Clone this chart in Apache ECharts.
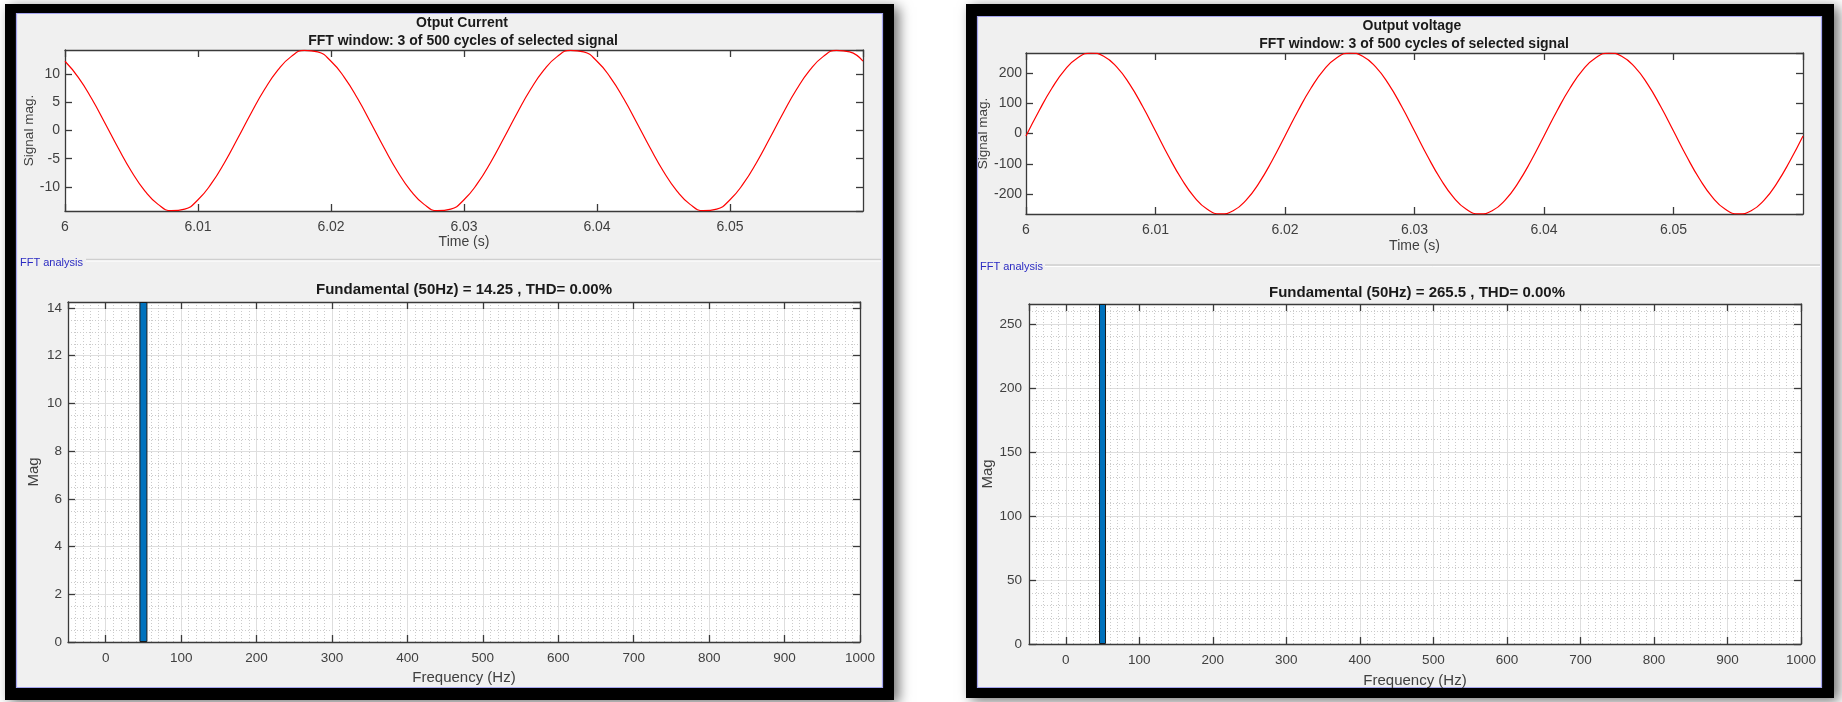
<!DOCTYPE html>
<html>
<head>
<meta charset="utf-8">
<script src="https://cdn.jsdelivr.net/npm/echarts@6/dist/echarts.min.js"></script>
<style>
html,body{margin:0;padding:0;background:#ffffff;}
#chart{width:1842px;height:702px;}
</style>
</head>
<body>
<div id="chart"></div>
<script>
// ---------------- data ----------------
const timeS = [
  6.000, 6.001, 6.002, 6.003, 6.004, 6.005, 6.006, 6.007, 6.008, 6.009,
  6.010, 6.011, 6.012, 6.013, 6.014, 6.015, 6.016, 6.017, 6.018, 6.019,
  6.020, 6.021, 6.022, 6.023, 6.024, 6.025, 6.026, 6.027, 6.028, 6.029,
  6.030, 6.031, 6.032, 6.033, 6.034, 6.035, 6.036, 6.037, 6.038, 6.039,
  6.040, 6.041, 6.042, 6.043, 6.044, 6.045, 6.046, 6.047, 6.048, 6.049,
  6.050, 6.051, 6.052, 6.053, 6.054, 6.055, 6.056, 6.057, 6.058, 6.059,
  6.060
];
const outputCurrent = [
  12.26, 9.42, 5.66, 1.34, -3.11, -7.25, -10.69, -13.08, -14.19, -13.91,
  -12.26, -9.42, -5.66, -1.34, 3.11, 7.25, 10.69, 13.08, 14.19, 13.91,
  12.26, 9.42, 5.66, 1.34, -3.11, -7.25, -10.69, -13.08, -14.19, -13.91,
  -12.26, -9.42, -5.66, -1.34, 3.11, 7.25, 10.69, 13.08, 14.19, 13.91,
  12.26, 9.42, 5.66, 1.34, -3.11, -7.25, -10.69, -13.08, -14.19, -13.91,
  -12.26, -9.42, -5.66, -1.34, 3.11, 7.25, 10.69, 13.08, 14.19, 13.91,
  12.26
];
const outputVoltage = [
  -8.3, 74.1, 149.2, 209.8, 249.8, 265.4, 255.0, 219.6, 162.7, 89.9,
  8.3, -74.1, -149.2, -209.8, -249.8, -265.4, -255.0, -219.6, -162.7, -89.9,
  -8.3, 74.1, 149.2, 209.8, 249.8, 265.4, 255.0, 219.6, 162.7, 89.9,
  8.3, -74.1, -149.2, -209.8, -249.8, -265.4, -255.0, -219.6, -162.7, -89.9,
  -8.3, 74.1, 149.2, 209.8, 249.8, 265.4, 255.0, 219.6, 162.7, 89.9,
  8.3, -74.1, -149.2, -209.8, -249.8, -265.4, -255.0, -219.6, -162.7, -89.9,
  -8.3
];
const harmonicHz = [50];
const currentSpectrum = [14.25];
const voltageSpectrum = [265.5];

const currentFundamental = 14.25;
const voltageFundamental = 265.5;
const thdPercent = '0.00';

const titles = {
  current: 'Otput Current',
  voltage: 'Output voltage',
  window: 'FFT window: 3 of 500 cycles of selected signal',
  fft: 'FFT analysis'
};

// ---------------- styling ----------------
const FONT = '"Liberation Sans", Arial, Helvetica, sans-serif';
const AXC = '#3a3a3a';
const LBL = '#404040';

function xAxes(g, o) {
  const base = {
    type: 'value', gridIndex: g, min: o.min, max: o.max,
    splitNumber: o.splitNumber || 5
  };
  if (o.interval != null) base.interval = o.interval;
  if (o.fixInterval != null) { base.minInterval = o.fixInterval; base.maxInterval = o.fixInterval; }
  const main = Object.assign({}, base, {
    position: 'bottom',
    axisLine: { show: true, onZero: false, lineStyle: { color: AXC, width: 1.3 } },
    axisTick: { show: true, inside: true, length: 7, lineStyle: { color: AXC, width: 1.3 } },
    axisLabel: {
      show: true, margin: o.margin, color: LBL, fontSize: o.labelSize, fontFamily: FONT,
      showMinLabel: o.showMin, showMaxLabel: o.showMax,
      formatter: o.formatter
    },
    splitLine: { show: !!o.grid, lineStyle: { color: '#dedede', width: 1 } },
    minorTick: { show: false, splitNumber: o.minor || 5 },
    minorSplitLine: { show: !!o.grid, lineStyle: { color: '#cbcbcb', width: 1, type: [1, 2] } },
    name: o.name, nameLocation: 'middle', nameGap: o.nameGap,
    nameTextStyle: { color: LBL, fontSize: o.nameSize, fontFamily: FONT }
  });
  const mirror = Object.assign({}, base, {
    position: 'top',
    axisLine: { show: true, onZero: false, lineStyle: { color: AXC, width: 1.3 } },
    axisTick: { show: true, inside: true, length: 7, lineStyle: { color: AXC, width: 1.3 } },
    axisLabel: { show: false },
    splitLine: { show: false }
  });
  return [main, mirror];
}

function yAxes(g, o) {
  const base = {
    type: 'value', gridIndex: g, min: o.min, max: o.max,
    splitNumber: o.splitNumber || 5
  };
  if (o.interval != null) base.interval = o.interval;
  if (o.fixInterval != null) { base.minInterval = o.fixInterval; base.maxInterval = o.fixInterval; }
  const main = Object.assign({}, base, {
    position: 'left',
    axisLine: { show: true, onZero: false, lineStyle: { color: AXC, width: 1.3 } },
    axisTick: { show: true, inside: true, length: 7, lineStyle: { color: AXC, width: 1.3 } },
    axisLabel: {
      show: true, margin: o.margin, color: LBL, fontSize: o.labelSize, fontFamily: FONT,
      showMinLabel: o.showMin, showMaxLabel: o.showMax,
      formatter: v => String(v)
    },
    splitLine: { show: !!o.grid, lineStyle: { color: '#dedede', width: 1 } },
    minorTick: { show: false, splitNumber: o.minor || 5 },
    minorSplitLine: { show: !!o.grid, lineStyle: { color: '#cbcbcb', width: 1, type: [1, 2] } },
    name: o.name, nameLocation: 'middle', nameGap: o.nameGap, nameRotate: 90,
    nameTextStyle: { color: LBL, fontSize: o.nameSize, fontFamily: FONT }
  });
  const mirror = Object.assign({}, base, {
    position: 'right',
    axisLine: { show: true, onZero: false, lineStyle: { color: AXC, width: 1.3 } },
    axisTick: { show: true, inside: true, length: 7, lineStyle: { color: AXC, width: 1.3 } },
    axisLabel: { show: false },
    splitLine: { show: false }
  });
  return [main, mirror];
}

const timeFmt = v => (Math.round(v * 100) / 100).toString();
const plainFmt = v => String(Math.round(v));

const grids = [
  { left: 65,   top: 50,  width: 798, height: 161 },
  { left: 68,   top: 302, width: 792, height: 340 },
  { left: 1026, top: 53,  width: 777, height: 161 },
  { left: 1029, top: 304, width: 772, height: 340 }
].map(g => Object.assign({ show: true, backgroundColor: '#ffffff', borderWidth: 0, containLabel: false }, g));

const xAxis = [].concat(
  xAxes(0, { min: 6, max: 6.06, interval: 0.01, margin: 9, labelSize: 14, showMin: true, showMax: false, formatter: timeFmt,
             name: 'Time (s)', nameGap: 24, nameSize: 14 }),
  xAxes(1, { min: -50, max: 1000, fixInterval: 100, splitNumber: 10, minor: 10, grid: true, margin: 9, labelSize: 13.5,
             showMin: false, showMax: true, formatter: plainFmt, name: 'Frequency (Hz)', nameGap: 28, nameSize: 15 }),
  xAxes(2, { min: 6, max: 6.06, interval: 0.01, margin: 9, labelSize: 14, showMin: true, showMax: false, formatter: timeFmt,
             name: 'Time (s)', nameGap: 25, nameSize: 14 }),
  xAxes(3, { min: -50, max: 1000, fixInterval: 100, splitNumber: 10, minor: 10, grid: true, margin: 9, labelSize: 13.5,
             showMin: false, showMax: true, formatter: plainFmt, name: 'Frequency (Hz)', nameGap: 29, nameSize: 15 })
);
const yAxis = [].concat(
  yAxes(0, { min: -currentFundamental, max: currentFundamental, fixInterval: 5, margin: 5, labelSize: 14,
             showMin: false, showMax: false, name: 'Signal mag.', nameGap: 25, nameSize: 13.5 }),
  yAxes(1, { min: 0, max: currentFundamental, interval: 2, minor: 4, grid: true, margin: 6, labelSize: 13.5,
             showMin: true, showMax: false, name: 'Mag', nameGap: 27, nameSize: 15 }),
  yAxes(2, { min: -voltageFundamental, max: voltageFundamental, fixInterval: 100, margin: 4, labelSize: 14,
             showMin: false, showMax: false, name: 'Signal mag.', nameGap: 32, nameSize: 13.5 }),
  yAxes(3, { min: 0, max: voltageFundamental, interval: 50, minor: 5, grid: true, margin: 7, labelSize: 13.5,
             showMin: true, showMax: false, name: 'Mag', nameGap: 34, nameSize: 15 })
);

const lineStyle = { color: '#ff0000', width: 1.2 };
const series = [
  { type: 'line', xAxisIndex: 0, yAxisIndex: 0, data: timeS.map((t, i) => [t, outputCurrent[i]]),
    showSymbol: false, smooth: true, lineStyle, itemStyle: { color: '#ff0000' }, clip: true, silent: true },
  { type: 'bar', xAxisIndex: 2, yAxisIndex: 2, data: harmonicHz.map((f, i) => [f, currentSpectrum[i]]),
    barWidth: 8, itemStyle: { color: '#0072BD', borderColor: '#1a1a1a', borderWidth: 1 }, silent: true },
  { type: 'line', xAxisIndex: 4, yAxisIndex: 4, data: timeS.map((t, i) => [t, outputVoltage[i]]),
    showSymbol: false, smooth: true, lineStyle, itemStyle: { color: '#ff0000' }, clip: true, silent: true },
  { type: 'bar', xAxisIndex: 6, yAxisIndex: 6, data: harmonicHz.map((f, i) => [f, voltageSpectrum[i]]),
    barWidth: 7, itemStyle: { color: '#0072BD', borderColor: '#1a1a1a', borderWidth: 1 }, silent: true }
];

function txt(x, y, text, font, fill, align) {
  return { type: 'text', x, y, z: 100, silent: true,
    style: { text, font, fill: fill || '#1a1a1a', textAlign: align || 'center', textVerticalAlign: 'middle' } };
}
function frame(x, y, w, h, ix, iy, iw, ih) {
  return [
    { type: 'rect', z: -20, silent: true, shape: { x, y, width: w, height: h },
      style: { fill: '#000000', shadowBlur: 12, shadowColor: 'rgba(0,0,0,0.55)', shadowOffsetX: 5, shadowOffsetY: 3 } },
    { type: 'rect', z: -19, silent: true, shape: { x: ix + 0.5, y: iy + 0.5, width: iw, height: ih },
      style: { fill: '#f0f0f0', stroke: '#a4a4ee', lineWidth: 1.2 } }
  ];
}
function etched(x1, x2, y) {
  return [
    { type: 'line', z: -18, silent: true, shape: { x1, y1: y, x2, y2: y }, style: { stroke: '#cfcfcf', lineWidth: 1.5 } },
    { type: 'line', z: -18, silent: true, shape: { x1, y1: y + 1.5, x2, y2: y + 1.5 }, style: { stroke: '#ffffff', lineWidth: 1 } }
  ];
}

const bold14 = 'bold 14px ' + FONT;
const bold15 = 'bold 15px ' + FONT;
const blue11 = '11px ' + FONT;

const graphic = [].concat(
  frame(5, 4, 889, 696, 16, 13, 866, 674),
  frame(966, 4, 868, 694, 977, 16, 844, 671),
  etched(86, 881, 259.5),
  etched(1045, 1820, 265),
  [
    txt(462, 23, titles.current, bold14),
    txt(463, 41, titles.window, bold14),
    txt(20, 263, titles.fft, blue11, '#2b2bc2', 'left'),
    txt(464, 290, 'Fundamental (50Hz) = ' + currentFundamental + ' , THD= ' + thdPercent + '%', bold15),
    txt(1412, 26, titles.voltage, bold14),
    txt(1414, 44, titles.window, bold14),
    txt(980, 267, titles.fft, blue11, '#2b2bc2', 'left'),
    txt(1417, 293, 'Fundamental (50Hz) = ' + voltageFundamental + ' , THD= ' + thdPercent + '%', bold15)
  ]
);

const chart = echarts.init(document.getElementById('chart'), null, { renderer: 'canvas' });
chart.setOption({
  animation: false,
  backgroundColor: '#ffffff',
  textStyle: { fontFamily: FONT },
  grid: grids,
  xAxis,
  yAxis,
  series,
  graphic
});
</script>
</body>
</html>
